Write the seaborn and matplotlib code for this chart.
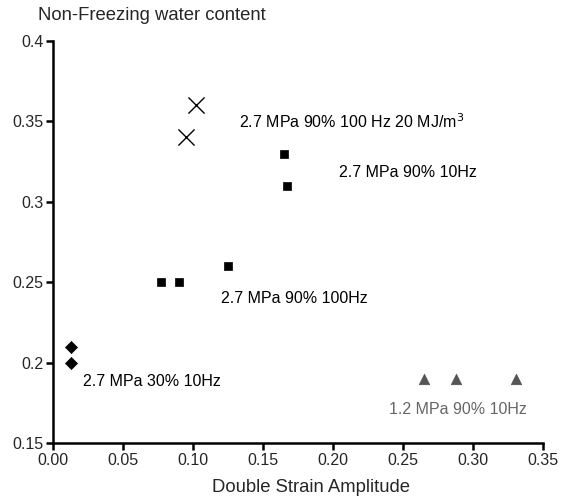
import matplotlib
matplotlib.use("Agg")
import matplotlib.pyplot as plt
import seaborn as sns
import pandas as pd
from matplotlib.ticker import FormatStrFormatter, FuncFormatter

sns.set_style("ticks")
plt.rcParams['font.family'] = ['Liberation Sans', 'DejaVu Sans']

# Data
x_energy = [0.102, 0.095]
y_energy = [0.360, 0.340]

x_90_10 = [0.165, 0.167]
y_90_10 = [0.330, 0.310]

x_90_100 = [0.077, 0.090, 0.125]
y_90_100 = [0.250, 0.250, 0.260]

x_30_10 = [0.013, 0.013]
y_30_10 = [0.210, 0.200]

x_12_90_10 = [0.265, 0.288, 0.331]
y_12_90_10 = [0.190, 0.190, 0.190]

labels = ["2.7 MPa 90% 100 Hz 20 MJ/m$^3$", "2.7 MPa 90% 10Hz", "2.7 MPa 90% 100Hz",
          "2.7 MPa 30% 10Hz", "1.2 MPa 90% 10Hz"]
label_x = [0.133, 0.204, 0.120, 0.0215, 0.240]
label_y = [0.350, 0.318, 0.240, 0.188, 0.171]
label_colors = ["black", "black", "black", "black", "#666666"]

x_ticks = [0.00, 0.05, 0.10, 0.15, 0.20, 0.25, 0.30, 0.35]
y_ticks = [0.15, 0.20, 0.25, 0.30, 0.35, 0.40]

fig = plt.figure(figsize=(5.71, 4.98), dpi=100)
ax = fig.add_axes([53/571, 1-443/498, 490/571, 402/498])

sns.scatterplot(x=x_energy, y=y_energy, marker='x', s=135, color='black', linewidth=1.0, ax=ax)
sns.scatterplot(x=x_90_10, y=y_90_10, marker='s', s=38, color='black', edgecolor='black', ax=ax)
sns.scatterplot(x=x_90_100, y=y_90_100, marker='s', s=38, color='black', edgecolor='black', ax=ax)
sns.scatterplot(x=x_30_10, y=y_30_10, marker='D', s=38, color='black', edgecolor='black', ax=ax)
sns.scatterplot(x=x_12_90_10, y=y_12_90_10, marker='^', s=55, color='#555555', edgecolor='#555555', ax=ax)

for t, lx, ly, c in zip(labels, label_x, label_y, label_colors):
    ax.text(lx, ly, t, ha='left', va='center', fontsize=11.5, color=c)

ax.set_xlim(0, 0.35)
ax.set_ylim(0.15, 0.40)
ax.set_xticks(x_ticks)
ax.set_yticks(y_ticks)
ax.xaxis.set_major_formatter(FormatStrFormatter('%.2f'))
ax.yaxis.set_major_formatter(FuncFormatter(lambda v, p: f"{v:g}"))
ax.tick_params(axis='both', labelsize=11.5, direction='out', length=5, width=1.8, color='black', pad=2)
for side in ['top', 'right']:
    ax.spines[side].set_visible(False)
for side in ['left', 'bottom']:
    ax.spines[side].set_linewidth(1.8)
    ax.spines[side].set_color('black')
ax.set_xlabel("Double Strain Amplitude", fontsize=13.3)
ax.xaxis.label.set_va('center')
ax.xaxis.set_label_coords((311 - 53) / 490, (443 - 487) / 402)
ax.set_ylabel("")
fig.text(38/571, 1-15/498, "Non-Freezing water content", ha='left', va='center', fontsize=13.3)

fig.savefig("out.png", dpi=100)
